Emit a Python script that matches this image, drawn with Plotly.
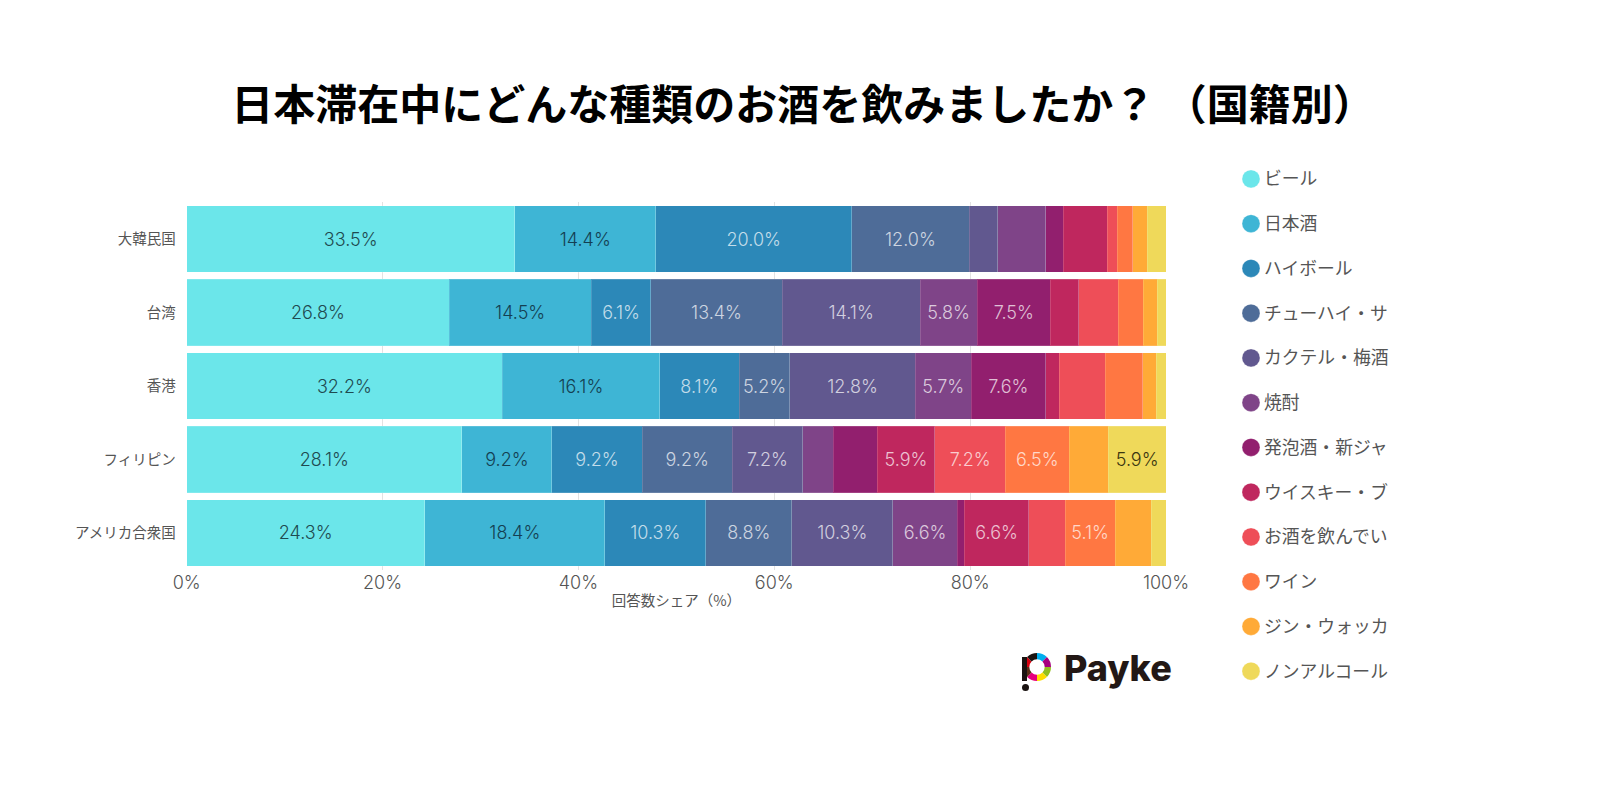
import plotly.graph_objects as go

countries = ["大韓民国", "台湾", "香港", "フィリピン", "アメリカ合衆国"]
drink_labels = ["ビール", "日本酒", "ハイボール", "チューハイ・サ", "カクテル・梅酒", "焼酎",
                "発泡酒・新ジャ", "ウイスキー・ブ", "お酒を飲んでい", "ワイン", "ジン・ウォッカ", "ノンアルコール"]
beer = [33.5, 26.8, 32.2, 28.1, 24.3]
sake = [14.4, 14.5, 16.1, 9.2, 18.4]
highball = [20.0, 6.1, 8.1, 9.2, 10.3]
chuhai = [12.0, 13.4, 5.2, 9.2, 8.8]
cocktail = [2.9, 14.1, 12.8, 7.2, 10.3]
shochu = [4.9, 5.8, 5.7, 3.1, 6.6]
happoshu = [1.8, 7.5, 7.6, 4.5, 0.7]
whisky = [4.5, 2.9, 1.4, 5.9, 6.6]
none_drunk = [1.0, 4.0, 4.7, 7.2, 3.7]
wine = [1.6, 2.6, 3.8, 6.5, 5.1]
gin = [1.5, 1.4, 1.4, 4.0, 3.7]
non_alcohol = [1.9, 0.9, 1.0, 5.9, 1.5]
series = [beer, sake, highball, chuhai, cocktail, shochu, happoshu, whisky, none_drunk, wine, gin, non_alcohol]

colors = ["#6BE6EA", "#3EB5D5", "#2C88B8", "#4E6C98", "#61588F", "#7F4488",
          "#921F6E", "#BF275E", "#EE4E58", "#FF7742", "#FFAA37", "#EFD95A"]
label_colors = ["#1f4a50", "#143f52"] + ["rgba(255,255,255,0.72)"] * 9 + ["#3a3510"]
x_ticks = [0, 20, 40, 60, 80, 100]
logo_colors = ["#00AEEF", "#A6007E", "#93C01F", "#FFDD00", "#E6007E", "#5A2E17", "#D7000F", "#1A1311"]
logo_shares = [1, 1, 1, 1, 1, 1, 1, 1]

FONT = "Noto Sans CJK JP"
NUM_FONT = "Inter, Noto Sans CJK JP"
fig = go.Figure()

for name, vals, col, lc in zip(drink_labels, series, colors, label_colors):
    fig.add_trace(go.Bar(
        name=name, y=countries, x=vals, orientation="h",
        marker=dict(color=col, line=dict(color="rgba(255,255,255,0.15)", width=1)),
        text=[f"{v:.1f}%" if v >= 5 else "" for v in vals],
        textposition="inside", insidetextanchor="middle", textangle=0,
        constraintext="none",
        insidetextfont=dict(family=NUM_FONT, size=18, color=lc, weight=300),
        showlegend=False, hoverinfo="name+x",
    ))

# legend column: dots in one small subplot, their labels in the next
fig.add_trace(go.Scatter(
    x=[0] * len(drink_labels), y=drink_labels, mode="markers",
    marker=dict(color=colors, size=18, line=dict(color="rgba(255,255,255,0.3)", width=1)),
    cliponaxis=False, xaxis="x2", yaxis="y2", showlegend=False, hoverinfo="skip",
))
fig.add_trace(go.Scatter(
    x=[0] * len(drink_labels), y=drink_labels, mode="text",
    text=drink_labels, textposition="middle right", cliponaxis=False,
    textfont=dict(family=FONT, size=17.8, color="#555555"),
    xaxis="x3", yaxis="y3", showlegend=False, hoverinfo="text",
))

# logo ring
fig.add_trace(go.Pie(
    values=logo_shares, marker=dict(colors=logo_colors), hole=0.55, sort=False,
    direction="clockwise", rotation=0, textinfo="none", showlegend=False, hoverinfo="skip",
    domain=dict(x=[1023 / 1600, 1051 / 1600], y=[1 - 681 / 800, 1 - 653 / 800]),
))

fig.update_layout(
    width=1600, height=800,
    margin=dict(l=0, r=0, t=0, b=0, autoexpand=False),
    paper_bgcolor="white", plot_bgcolor="white",
    barmode="stack", bargap=0.1,
    font=dict(family=FONT, color="#555555"),
    title=dict(text="日本滞在中にどんな種類のお酒を飲みましたか？ （国籍別）",
               x=803 / 1600, xanchor="center", y=1 - 105 / 800, yanchor="middle",
               font=dict(family=FONT, size=42, color="#000000", weight="bold")),
    xaxis=dict(domain=[186.7 / 1600, 1166 / 1600], range=[0, 100], tickvals=x_ticks, automargin=False,
               ticktext=[f"{t}%" for t in x_ticks], showgrid=True, gridcolor="#E2E2E2",
               gridwidth=1, zeroline=False, showline=False, ticks="",
               tickfont=dict(family=NUM_FONT, size=18, color="#555555", weight=300),
               title=dict(text="回答数シェア（%）", standoff=4,
                          font=dict(family=FONT, size=14.5, color="#555555"))),
    yaxis=dict(domain=[1 - 569.7 / 800, 1 - 202.3 / 800], autorange="reversed", automargin=False,
               categoryorder="array", categoryarray=countries, showgrid=False, zeroline=False,
               showline=False, ticks="", ticklabelstandoff=10,
               tickfont=dict(family=FONT, size=14.5, color="#555555")),
    xaxis2=dict(domain=[1241 / 1600, 1261 / 1600], range=[-1, 1], anchor="y2", visible=False),
    yaxis2=dict(domain=[1 - 693.5 / 800, 1 - 156.5 / 800], anchor="x2", visible=False,
                type="category", categoryorder="array", categoryarray=drink_labels,
                range=[11.5, -0.5]),
    xaxis3=dict(domain=[1264 / 1600, 1400 / 1600], range=[0, 1], anchor="y3", visible=False),
    yaxis3=dict(domain=[1 - 695.5 / 800, 1 - 158.5 / 800], anchor="x3", visible=False,
                type="category", categoryorder="array", categoryarray=drink_labels,
                range=[11.5, -0.5]),
    annotations=[dict(text="Payke", xref="paper", yref="paper", x=1062 / 1600, y=1 - 668 / 800,
                      xanchor="left", yanchor="middle", showarrow=False,
                      font=dict(family="Inter", size=36, color="#231815", weight=800))],
    shapes=[
        dict(type="rect", xref="paper", yref="paper", x0=1022 / 1600, x1=1027 / 1600,
             y0=1 - 681 / 800, y1=1 - 657 / 800, fillcolor="#1A1311", line_width=0),
        dict(type="circle", xref="paper", yref="paper", x0=1022 / 1600, x1=1029 / 1600,
             y0=1 - 691 / 800, y1=1 - 684 / 800, fillcolor="#1A1311", line_width=0),
    ],
)

fig.write_html("out.html", config=dict(displayModeBar=False),
               post_script="document.body.style.margin='0';")
